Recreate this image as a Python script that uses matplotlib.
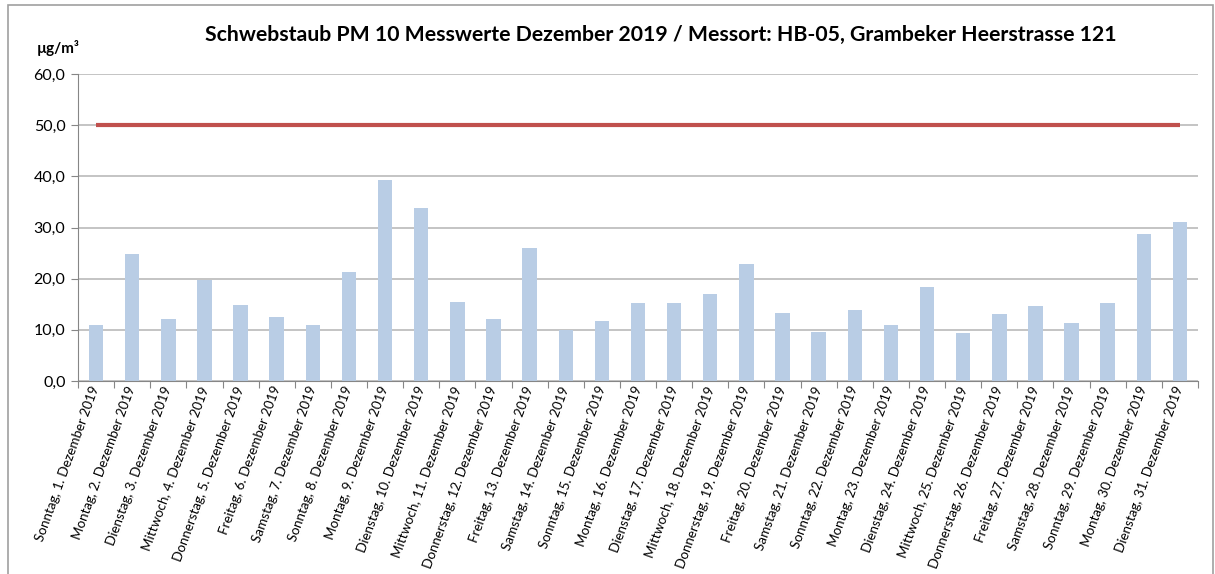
import numpy as np
import matplotlib
matplotlib.use('Agg')
import matplotlib.pyplot as plt
from matplotlib.patches import Rectangle

plt.rcParams['font.family'] = ['Lato', 'DejaVu Sans']

weekdays = ["Sonntag", "Montag", "Dienstag", "Mittwoch", "Donnerstag", "Freitag", "Samstag"]
days = list(range(1, 32))
labels = [f"{weekdays[(d - 1) % 7]}, {d}. Dezember 2019" for d in days]

pm10 = [11.0, 24.9, 12.1, 19.8, 14.8, 12.5, 11.0, 21.3, 39.2, 33.8,
        15.5, 12.1, 25.9, 10.0, 11.8, 15.2, 15.2, 17.0, 22.8, 13.3,
        9.6, 13.8, 11.0, 18.4, 9.4, 13.1, 14.6, 11.3, 15.2, 28.7, 31.0]
limit = 50.0

W, H = 1215, 574
fig = plt.figure(figsize=(W / 100, H / 100), dpi=100)
fig.patches.append(Rectangle((8 / W, -0.01), (1213 - 8) / W, 1.01 - 5 / H,
                             transform=fig.transFigure, fill=False,
                             edgecolor='#A0A0A0', linewidth=1.2))

ax = fig.add_axes([78 / W, 1 - 381 / H, (1198 - 78) / W, (381 - 74) / H])
x = np.arange(len(days))
ax.bar(x, pm10, width=0.4, color='#B9CDE5', zorder=2)
ax.plot(x, [limit] * len(x), color='#C0504D', linewidth=3, zorder=3,
        solid_capstyle='butt')

ax.set_xlim(-0.5, len(days) - 0.5)
ax.set_ylim(0, 60)
ax.set_yticks(np.arange(0, 61, 10))
ax.set_yticklabels([f"{v:.1f}".replace('.', ',') for v in np.arange(0, 61, 10)],
                   fontsize=11.5)
ax.yaxis.grid(True, color='#B4B4B4', linewidth=1.1, zorder=0)
ax.set_axisbelow(True)

# category ticks sit between the bars, labels at bar centres
ax.set_xticks(np.arange(-0.5, len(days), 1.0))
ax.set_xticklabels([])
ax.set_xticks(x, minor=True)
ax.set_xticklabels(labels, minor=True, rotation=70, ha='right', va='center',
                   rotation_mode='anchor', fontsize=9.6)
ax.tick_params(axis='x', which='minor', length=0, pad=4)
ax.tick_params(axis='x', which='major', length=5, color='#868686')
ax.tick_params(axis='y', length=5, color='#868686', pad=4)

for side in ['top', 'right']:
    ax.spines[side].set_visible(False)
for side in ['left', 'bottom']:
    ax.spines[side].set_color('#868686')

fig.text(661 / W, 1 - 35 / H,
         "Schwebstaub PM 10 Messwerte Dezember 2019 / Messort: HB-05, Grambeker Heerstrasse 121",
         ha='center', va='center', fontsize=15.3, fontweight='bold')
fig.text(58 / W, 1 - 48 / H, "µg/m³", ha='center', va='center',
         fontsize=11, fontweight='bold')

fig.savefig('out.png', dpi=100)
